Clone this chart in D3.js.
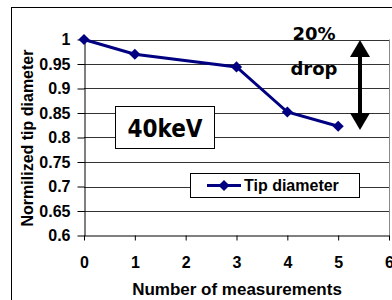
<!DOCTYPE html>
<html>
<head>
<meta charset="utf-8">
<script src="https://cdn.jsdelivr.net/npm/d3@7"></script>
<style>
  body { margin: 0; background: #fff; }
  svg { display: block; }
  text { font-family: Arial, "Liberation Sans", sans-serif; font-weight: bold; fill: #000; }
  .comic { font-family: "DejaVu Sans", sans-serif; }
  .comic-c { font-family: "DejaVu Sans Condensed", "DejaVu Sans", sans-serif; }
</style>
</head>
<body>
<svg id="chart"></svg>
<script>
/* data */
const measurements = [0, 1, 3, 4, 5];
const tipDiameter = [1.0, 0.97, 0.944, 0.852, 0.823];
const xTicks = [0, 1, 2, 3, 4, 5, 6];
const yTicks = [0.6, 0.65, 0.7, 0.75, 0.8, 0.85, 0.9, 0.95, 1];
const seriesName = "Tip diameter";

const width = 392, height = 300;
const svg = d3.select("#chart").attr("width", width).attr("height", height);

// outer chart frame (clipped at right / bottom like the reference)
svg.append("rect")
  .attr("x", 11.5).attr("y", 7.5)
  .attr("width", 400).attr("height", 320)
  .attr("fill", "none").attr("stroke", "#000");

const x = d3.scaleLinear().domain([0, 6]).range([84, 389]);
const y = d3.scaleLinear().domain([0.6, 1]).range([235.5, 39.5]);

// gridlines
svg.append("g").selectAll("line")
  .data(yTicks.slice(1))
  .join("line")
  .attr("x1", x(0)).attr("x2", x(6))
  .attr("y1", d => Math.round(y(d)) + 0.5).attr("y2", d => Math.round(y(d)) + 0.5)
  .attr("stroke", "#333");

// plot right border
svg.append("line")
  .attr("x1", x(6) + 0.5).attr("x2", x(6) + 0.5)
  .attr("y1", y(1)).attr("y2", y(0.6))
  .attr("stroke", "#888");

// y axis
const yAxis = svg.append("g")
  .attr("transform", `translate(${x(0) + 0.5},0)`)
  .call(d3.axisLeft(y).tickValues(yTicks).tickFormat(d3.format("")).tickSize(7).tickSizeOuter(0));
yAxis.attr("font-size", null).attr("font-family", null);
yAxis.select(".domain").attr("stroke", "#000");
yAxis.selectAll(".tick line").attr("stroke", "#000");
yAxis.selectAll(".tick text").attr("x", -14).style("font-size", "16px");

// x axis
const xAxis = svg.append("g")
  .attr("transform", `translate(0,${y(0.6)})`)
  .call(d3.axisBottom(x).tickValues(xTicks).tickFormat(d3.format("d")).tickSize(5).tickSizeOuter(0));
xAxis.attr("font-size", null).attr("font-family", null);
xAxis.select(".domain").attr("stroke", "#000");
xAxis.selectAll(".tick line").attr("stroke", "#000");
xAxis.selectAll(".tick text").attr("y", 21).style("font-size", "16px");

// axis titles
svg.append("text")
  .attr("x", 237).attr("y", 295)
  .attr("text-anchor", "middle").style("font-size", "17px")
  .text("Number of measurements");
svg.append("text")
  .attr("transform", "translate(33,138) rotate(-90)")
  .attr("text-anchor", "middle").style("font-size", "16px")
  .text("Normilized tip diameter");

// series
const pts = measurements.map((m, i) => [m, tipDiameter[i]]);
svg.append("path")
  .datum(pts)
  .attr("d", d3.line().x(d => x(d[0])).y(d => y(d[1])))
  .attr("fill", "none").attr("stroke", "#000080").attr("stroke-width", 3);
const diamond = d3.symbol().type(d3.symbolSquare).size(62);
svg.append("g").selectAll("path")
  .data(pts)
  .join("path")
  .attr("transform", d => `translate(${x(d[0])},${y(d[1])}) rotate(45)`)
  .attr("d", diamond)
  .attr("fill", "#000080");

// 40keV label box
svg.append("rect")
  .attr("x", 115.5).attr("y", 106.5).attr("width", 99).attr("height", 42)
  .attr("fill", "#fff").attr("stroke", "#000");
svg.append("text").attr("class", "comic-c")
  .attr("x", 165).attr("y", 137)
  .attr("text-anchor", "middle").style("font-size", "24px")
  .text("40keV");

// 20% drop annotation
svg.append("text").attr("class", "comic")
  .attr("x", 314).attr("y", 40)
  .attr("text-anchor", "middle").style("font-size", "18px")
  .text("20%");
svg.append("text").attr("class", "comic")
  .attr("x", 314).attr("y", 75)
  .attr("text-anchor", "middle").style("font-size", "18px")
  .text("drop");
const ax = 360, ay1 = 40, ay2 = 130;
svg.append("line")
  .attr("x1", ax).attr("x2", ax).attr("y1", ay1 + 12).attr("y2", ay2 - 12)
  .attr("stroke", "#000").attr("stroke-width", 4);
svg.append("path")
  .attr("d", `M${ax},${ay1} L${ax - 10},${ay1 + 17} L${ax + 10},${ay1 + 17} Z`)
  .attr("fill", "#000");
svg.append("path")
  .attr("d", `M${ax},${ay2} L${ax - 10},${ay2 - 17} L${ax + 10},${ay2 - 17} Z`)
  .attr("fill", "#000");

// legend
const lg = svg.append("g");
lg.append("rect")
  .attr("x", 190.5).attr("y", 173.5).attr("width", 169).attr("height", 24)
  .attr("fill", "#fff").attr("stroke", "#000");
lg.append("line")
  .attr("x1", 207).attr("x2", 241).attr("y1", 185.5).attr("y2", 185.5)
  .attr("stroke", "#000080").attr("stroke-width", 3);
lg.append("path")
  .attr("transform", "translate(224,185.5) rotate(45)")
  .attr("d", diamond).attr("fill", "#000080");
lg.append("text")
  .attr("x", 244).attr("y", 191)
  .style("font-size", "16px")
  .text(seriesName);
</script>
</body>
</html>
